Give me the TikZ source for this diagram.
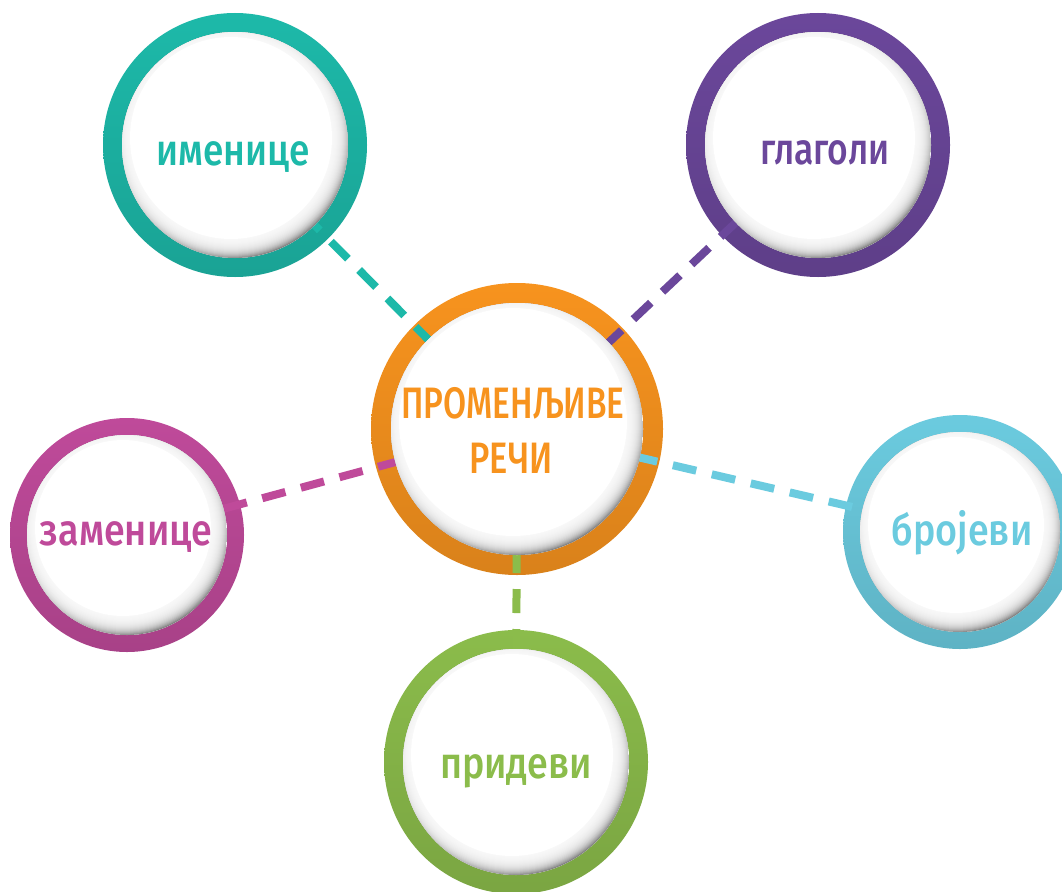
\documentclass[tikz,border=0pt]{standalone}
\usepackage{fontspec}
\setmainfont{Fira Sans}[BoldFont={Fira Sans Medium}]
\usepackage{graphicx}
\pgfdeclarelayer{ringlayer}
\pgfdeclarelayer{linklayer}
\pgfsetlayers{ringlayer,linklayer,main}
\definecolor{cOrange}{HTML}{F7931E}
\definecolor{cTeal}{HTML}{1DB9A9}
\definecolor{cPurple}{HTML}{6B479B}
\definecolor{cMagenta}{HTML}{BF4A9A}
\definecolor{cSky}{HTML}{6BCBDF}
\definecolor{cGreen}{HTML}{8BBC4B}
\newcommand\fitw[2]{\resizebox{#1}{\height}{#2}}
\begin{document}
\begin{tikzpicture}[x=1pt,y=-1pt,
  bubble/.style={circle, inner sep=0pt, minimum size=2*#1, fill=white,
    path picture={
      \fill[black!58] (path picture bounding box.south west) rectangle (path picture bounding box.north east);
      \foreach \k in {0,...,19}{
        \fill[white, opacity=0.16] ([shift={(-4pt,7pt)}]path picture bounding box.center) circle[radius=#1+8pt-\k*1pt];}
      \fill[white] ([shift={(-4pt,7pt)}]path picture bounding box.center) circle[radius=#1-12pt];}},
  ringfill/.style={top color=#1, bottom color=#1!88!black, even odd rule},
  linkline/.style={draw=#1, line width=8pt, dash pattern=on 24pt off 16pt},
  lbl/.style={anchor=base, inner sep=0pt, font=\fontsize{44}{48}\selectfont\bfseries},
]
\useasboundingbox (0,0) rectangle (1062,891);
\begin{pgfonlayer}{ringlayer}
\fill[white] (0,0) rectangle (1062,891);
\end{pgfonlayer}

% bubbles
\node[bubble=126pt] (c0) at (517,429) {};
\node[bubble=113pt] (c1) at (235,145) {};
\node[bubble=113pt] (c2) at (818,145) {};
\node[bubble=100pt] (c3) at (127,535) {};
\node[bubble=100pt] (c4) at (960,532) {};
\node[bubble=113pt] (c5) at (516,762) {};

% rings
\begin{pgfonlayer}{ringlayer}
\shade[ringfill=cOrange] (c0.center) circle[radius=146pt] circle[radius=126pt];
\shade[ringfill=cTeal] (c1.center) circle[radius=132pt] circle[radius=113pt];
\shade[ringfill=cPurple] (c2.center) circle[radius=132pt] circle[radius=113pt];
\shade[ringfill=cMagenta] (c3.center) circle[radius=117pt] circle[radius=100pt];
\shade[ringfill=cSky] (c4.center) circle[radius=117pt] circle[radius=100pt];
\shade[ringfill=cGreen] (c5.center) circle[radius=132pt] circle[radius=113pt];
\end{pgfonlayer}

% connectors
\begin{pgfonlayer}{linklayer}
\draw[linkline=cTeal] (c0.center) -- (c1.center);
\draw[linkline=cPurple] (c0.center) -- (c2.center);
\draw[linkline=cMagenta] (c0.center) -- (c3.center);
\draw[linkline=cSky] (c0.center) -- (c4.center);
\draw[linkline=cGreen] (c0.center) -- (c5.center);
\end{pgfonlayer}

% labels
\node[lbl, text=cOrange] (t0a) at (513,418) {\fitw{223pt}{ПРОМЕНЉИВЕ}};
\node[lbl, text=cOrange] (t0b) at (511,473) {\fitw{83pt}{РЕЧИ}};
\node[lbl, text=cTeal] (t1) at (233,165) {\fitw{153pt}{именице}};
\node[lbl, text=cPurple] (t2) at (825,164) {\fitw{129pt}{глаголи}};
\node[lbl, text=cMagenta] (t3) at (126,545) {\fitw{172pt}{заменице}};
\node[lbl, text=cSky] (t4) at (962,545) {\fitw{141pt}{бројеви}};
\node[lbl, text=cGreen] (t5) at (516,778) {\fitw{152pt}{придеви}};
\end{tikzpicture}
\end{document}
